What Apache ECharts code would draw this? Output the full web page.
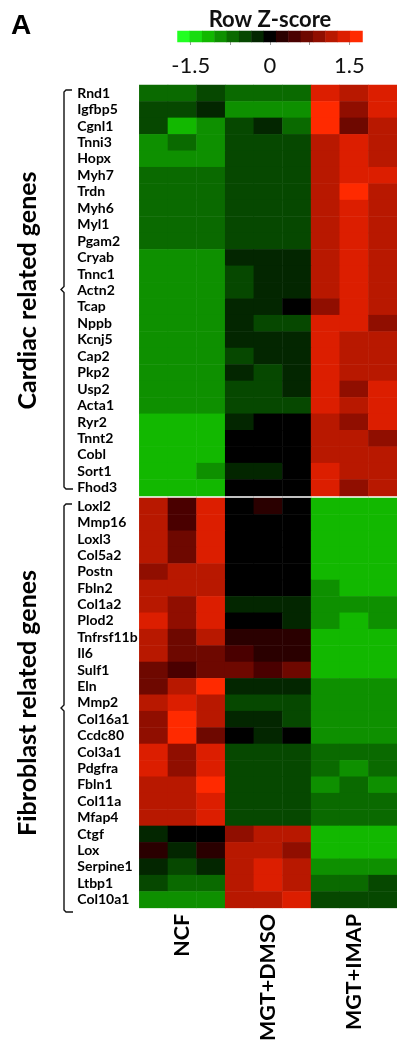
<!DOCTYPE html>
<html><head><meta charset="utf-8">
<script src="https://cdn.jsdelivr.net/npm/echarts@6/dist/echarts.min.js"></script>
<style>html,body{margin:0;padding:0;background:#fff}#c{width:397px;height:1044px}</style>
</head><body><div id="c"></div>
<script>
// ---------- data ----------
const samples = ['NCF-1','NCF-2','NCF-3','DMSO-1','DMSO-2','DMSO-3','IMAP-1','IMAP-2','IMAP-3'];
const groups = ['NCF','MGT+DMSO','MGT+IMAP'];
const cardiacGenes = ['Rnd1','Igfbp5','Cgnl1','Tnni3','Hopx','Myh7','Trdn','Myh6','Myl1','Pgam2','Cryab','Tnnc1','Actn2','Tcap','Nppb','Kcnj5','Cap2','Pkp2','Usp2','Acta1','Ryr2','Tnnt2','Cobl','Sort1','Fhod3'];
const fibroGenes = ['Loxl2','Mmp16','Loxl3','Col5a2','Postn','Fbln2','Col1a2','Plod2','Tnfrsf11b','Il6','Sulf1','Eln','Mmp2','Col16a1','Ccdc80','Col3a1','Pdgfra','Fbln1','Col11a','Mfap4','Ctgf','Lox','Serpine1','Ltbp1','Col10a1'];
const cardiacZ = [
[-0.7,-0.7,-0.47,-0.7,-0.7,-0.7,1.4,1.17,1.4],
[-0.47,-0.47,-0.23,-0.93,-0.93,-0.93,1.63,0.93,1.4],
[-0.47,-1.17,-0.93,-0.47,-0.23,-0.7,1.63,0.7,1.17],
[-0.93,-0.7,-0.93,-0.47,-0.47,-0.47,1.17,1.4,1.17],
[-0.93,-0.93,-0.93,-0.47,-0.47,-0.47,1.17,1.4,1.17],
[-0.7,-0.7,-0.7,-0.47,-0.47,-0.47,1.17,1.4,1.4],
[-0.7,-0.7,-0.7,-0.47,-0.47,-0.47,1.17,1.63,1.17],
[-0.7,-0.7,-0.7,-0.47,-0.47,-0.47,1.17,1.4,1.17],
[-0.7,-0.7,-0.7,-0.47,-0.47,-0.47,1.17,1.4,1.17],
[-0.7,-0.7,-0.7,-0.47,-0.47,-0.47,1.17,1.4,1.17],
[-0.93,-0.93,-0.93,-0.23,-0.23,-0.23,1.17,1.4,1.17],
[-0.93,-0.93,-0.93,-0.47,-0.23,-0.23,1.17,1.4,1.17],
[-0.93,-0.93,-0.93,-0.47,-0.23,-0.23,1.17,1.4,1.17],
[-0.93,-0.93,-0.93,-0.23,-0.23,0,0.93,1.4,1.17],
[-0.93,-0.93,-0.93,-0.23,-0.47,-0.47,1.4,1.4,0.93],
[-0.93,-0.93,-0.93,-0.23,-0.23,-0.23,1.4,1.17,1.17],
[-0.93,-0.93,-0.93,-0.47,-0.23,-0.23,1.4,1.17,1.17],
[-0.93,-0.93,-0.93,-0.23,-0.47,-0.23,1.4,1.17,1.17],
[-0.93,-0.93,-0.93,-0.47,-0.47,-0.23,1.4,0.93,1.4],
[-0.93,-0.93,-0.93,-0.47,-0.47,-0.47,1.4,1.17,1.4],
[-1.17,-1.17,-1.17,-0.23,0,0,1.17,0.93,1.4],
[-1.17,-1.17,-1.17,0,0,0,1.17,1.17,0.93],
[-1.17,-1.17,-1.17,0,0,0,1.17,1.17,1.17],
[-1.17,-1.17,-0.93,-0.23,-0.23,0,1.4,1.17,1.17],
[-1.17,-1.17,-1.17,0,0,0,1.4,0.93,1.17]
];
const fibroZ = [
[1.17,0.47,1.4,0,0.23,0,-1.17,-1.17,-1.17],
[1.17,0.47,1.4,0,0,0,-1.17,-1.17,-1.17],
[1.17,0.7,1.4,0,0,0,-1.17,-1.17,-1.17],
[1.17,0.7,1.4,0,0,0,-1.17,-1.17,-1.17],
[0.93,1.17,1.17,0,0,0,-1.17,-1.17,-1.17],
[1.17,1.17,1.17,0,0,0,-0.93,-1.17,-1.17],
[1.17,0.93,1.4,-0.23,-0.23,-0.23,-0.93,-0.93,-0.93],
[1.4,0.93,1.4,0,0,-0.23,-0.93,-1.17,-0.93],
[1.17,0.7,1.17,0.23,0.23,0.23,-1.17,-1.17,-1.17],
[1.17,0.7,0.7,0.47,0.23,0.23,-1.17,-1.17,-1.17],
[0.7,0.47,0.7,0.7,0.47,0.7,-1.17,-1.17,-1.17],
[0.7,1.17,1.63,-0.23,-0.23,-0.23,-0.93,-0.93,-0.93],
[1.17,1.4,1.17,-0.47,-0.47,-0.47,-0.93,-0.93,-0.93],
[0.93,1.63,1.17,-0.23,-0.23,-0.47,-0.93,-0.93,-0.93],
[0.93,1.63,0.7,0,-0.23,0,-0.93,-0.93,-0.93],
[1.4,0.93,1.4,-0.47,-0.47,-0.47,-0.7,-0.7,-0.7],
[1.4,0.93,1.4,-0.47,-0.47,-0.47,-0.7,-0.93,-0.7],
[1.17,1.17,1.63,-0.47,-0.47,-0.47,-0.93,-0.7,-0.93],
[1.17,1.17,1.4,-0.47,-0.47,-0.47,-0.7,-0.7,-0.7],
[1.17,1.17,1.4,-0.47,-0.47,-0.47,-0.7,-0.7,-0.7],
[-0.23,0,0,0.93,1.17,1.17,-1.17,-1.17,-1.17],
[0.23,-0.23,0.23,1.17,1.17,0.93,-1.17,-1.17,-1.17],
[-0.23,-0.47,-0.23,1.17,1.4,1.17,-0.93,-0.93,-0.93],
[-0.47,-0.7,-0.7,1.17,1.4,1.17,-0.7,-0.7,-0.47],
[-0.93,-0.93,-0.93,1.17,1.17,1.4,-0.47,-0.47,-0.47]
];
const scaleValues = [-1.63,-1.4,-1.17,-0.93,-0.7,-0.47,-0.23,0,0.23,0.47,0.7,0.93,1.17,1.4,1.63];
const scaleTicks = [-1.5,-0.75,0,0.75,1.5];
const scaleLabels = [-1.5,0,1.5];
const scaleMin = -1.75, scaleMax = 1.75;

// ---------- styles ----------
const scaleColors = ['#22ff22','#18dc10','#12b800','#0e9000','#0a6a00','#064800','#032600','#000000','#2a0000','#4a0000','#6e0800','#900e00','#b81800','#dc1e00','#ff2a00'];
const FONT = 'Lato';
const G0 = {left: 139.3, right: -5, top: 85, height: 411};
const G1 = {left: 139.3, right: -5, top: 498, height: 418};
const GS = {left: 177.5, right: 34.5, top: 31, height: 11};

const step = (scaleMax - scaleMin) / scaleColors.length;
const pieces = scaleColors.map((c, i) => ({gte: scaleMin + i*step, lt: scaleMin + (i+1)*step, color: c}));

function toCells(mat){ const out=[]; mat.forEach((row,r)=>row.forEach((v,c)=>out.push([c,r,v]))); return out; }

function bracket(x, y0, y1){
  const m = (y0+y1)/2;
  return {type:'polyline', silent:true, shape:{points:[[x+8,y0],[x+2,y0],[x,y0+2],[x,m-3],[x-3,m],[x,m+3],[x,y1-2],[x+2,y1],[x+9,y1]]},
    style:{stroke:'#111', lineWidth:1.4, fill:null}};
}

const yAxisCommon = {
  type:'category', inverse:true,
  axisLine:{show:false}, axisTick:{show:false}, splitLine:{show:false},
  axisLabel:{interval:0, align:'left', margin:62, fontSize:14, fontWeight:'bold', fontFamily:FONT, color:'#000'},
  nameLocation:'middle', nameRotate:90, nameGap:99,
  nameTextStyle:{fontSize:25, fontWeight:'bold', fontFamily:FONT, color:'#000'}
};

const chart = echarts.init(document.getElementById('c'), null, {renderer:'canvas'});
chart.setOption({
  backgroundColor:'#fff',
  animation:false,
  grid:[G0, G1, GS],
  xAxis:[
    {type:'category', gridIndex:0, data:samples, show:false},
    {type:'category', gridIndex:1, data:samples, show:false},
    {type:'category', gridIndex:1, data:groups, position:'bottom',
      axisLine:{show:false}, axisTick:{show:false},
      axisLabel:{rotate:90, margin:6, fontSize:21.5, fontWeight:'bold', fontFamily:FONT, color:'#000'}},
    {type:'category', gridIndex:2, data:scaleValues.map(String), show:false},
    {type:'value', gridIndex:2, min:scaleMin, max:scaleMax, position:'bottom',
      axisLine:{show:false}, splitLine:{show:false},
      axisTick:{show:true, length:3, customValues:scaleTicks, lineStyle:{color:'#999', width:1}},
      axisLabel:{customValues:scaleLabels, margin:13, fontSize:22, fontFamily:FONT, color:'#111',
        formatter:v => v === 0 ? '0' : String(v)}}
  ],
  yAxis:[
    Object.assign({}, yAxisCommon, {gridIndex:0, data:cardiacGenes, name:'Cardiac related genes'}),
    Object.assign({}, yAxisCommon, {gridIndex:1, data:fibroGenes, name:'Fibroblast related genes'}),
    {type:'category', gridIndex:2, data:[''], show:false}
  ],
  visualMap:{type:'piecewise', show:false, dimension:2, pieces:pieces, seriesIndex:[0,1,2]},
  series:[
    {type:'heatmap', xAxisIndex:0, yAxisIndex:0, data:toCells(cardiacZ), emphasis:{disabled:true}},
    {type:'heatmap', xAxisIndex:1, yAxisIndex:1, data:toCells(fibroZ), emphasis:{disabled:true}},
    {type:'heatmap', xAxisIndex:3, yAxisIndex:2, data:scaleValues.map((v,i)=>[i,0,v]), emphasis:{disabled:true}}
  ],
  graphic:[
    {type:'text', left:11, top:12, style:{text:'A', font:'bold 28px "Liberation Sans", Arial', fill:'#000'}},
    {type:'text', x:270, y:20, style:{text:'Row Z-score', font:'bold 22px '+FONT, fill:'#111', align:'center', verticalAlign:'middle'}},
    bracket(64, G0.top+5, G0.top+G0.height-7),
    bracket(64, G1.top+6, G1.top+G1.height-4)
  ]
});
</script></body></html>
